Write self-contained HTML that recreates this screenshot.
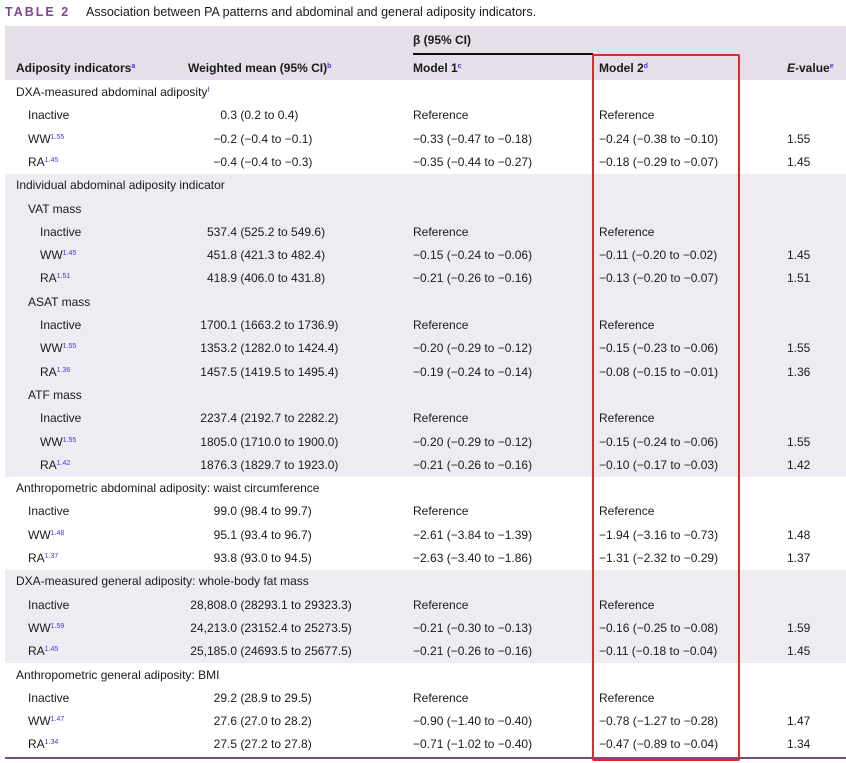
<!DOCTYPE html>
<html><head><meta charset="utf-8">
<style>
body{margin:0;width:846px;height:763px;background:#fff;position:relative;overflow:hidden;font-family:"Liberation Sans",sans-serif;font-size:12px;color:#1a1a1a}
.a{position:absolute;white-space:nowrap;line-height:14px}
.band{position:absolute;left:5px;width:841px}
sup{font-size:7px;color:#3b3bd6;vertical-align:4px;line-height:0}
.wm{position:absolute;white-space:nowrap;line-height:14px}
.wm .i{display:inline-block;width:75px;text-align:right}
</style></head><body>
<div class="a" style="left:5px;top:5px;font-weight:bold;color:#7a4a8c;letter-spacing:2px;font-size:12.5px">TABLE 2</div>
<div class="a" style="left:86px;top:5px;font-size:12.5px">Association between PA patterns and abdominal and general adiposity indicators.</div>
<div class="band" style="top:26px;height:54px;background:#e5dfea"></div>
<div class="band" style="top:174px;height:303px;background:#efebf2"></div>
<div class="band" style="top:570px;height:93px;background:#efebf2"></div>
<div class="a" style="left:413px;top:33px;font-weight:bold">β (95% CI)</div>
<div class="a" style="left:413px;top:53px;width:180px;height:1.5px;background:#111"></div>
<div class="a" style="left:16px;top:61px;font-weight:bold">Adiposity indicators<sup>a</sup></div>
<div class="a" style="left:188px;top:61px;font-weight:bold">Weighted mean (95% CI)<sup>b</sup></div>
<div class="a" style="left:413px;top:61px;font-weight:bold">Model 1<sup>c</sup></div>
<div class="a" style="left:599px;top:61px;font-weight:bold">Model 2<sup>d</sup></div>
<div class="a" style="left:787px;top:61px;font-weight:bold"><i>E</i>-value<sup>e</sup></div>
<div id="rows"></div>
<div class="band" style="top:757px;height:2px;background:#7a4a8c"></div>
<div class="a" style="left:592px;top:54px;width:144px;height:703px;border:2px solid #e02a24;border-radius:2px"></div>
<script>
const rows=[
[0,"DXA-measured abdominal adiposity","","","","","f"],
[1,"Inactive","0","3 (0.2 to 0.4)","Reference","Reference",""],
[1,"WW","−0","2 (−0.4 to −0.1)","−0.33 (−0.47 to −0.18)","−0.24 (−0.38 to −0.10)","1.55"],
[1,"RA","−0","4 (−0.4 to −0.3)","−0.35 (−0.44 to −0.27)","−0.18 (−0.29 to −0.07)","1.45"],
[0,"Individual abdominal adiposity indicator","","","","",""],
[1,"VAT mass","","","","",""],
[2,"Inactive","537","4 (525.2 to 549.6)","Reference","Reference",""],
[2,"WW","451","8 (421.3 to 482.4)","−0.15 (−0.24 to −0.06)","−0.11 (−0.20 to −0.02)","1.45"],
[2,"RA","418","9 (406.0 to 431.8)","−0.21 (−0.26 to −0.16)","−0.13 (−0.20 to −0.07)","1.51"],
[1,"ASAT mass","","","","",""],
[2,"Inactive","1700","1 (1663.2 to 1736.9)","Reference","Reference",""],
[2,"WW","1353","2 (1282.0 to 1424.4)","−0.20 (−0.29 to −0.12)","−0.15 (−0.23 to −0.06)","1.55"],
[2,"RA","1457","5 (1419.5 to 1495.4)","−0.19 (−0.24 to −0.14)","−0.08 (−0.15 to −0.01)","1.36"],
[1,"ATF mass","","","","",""],
[2,"Inactive","2237","4 (2192.7 to 2282.2)","Reference","Reference",""],
[2,"WW","1805","0 (1710.0 to 1900.0)","−0.20 (−0.29 to −0.12)","−0.15 (−0.24 to −0.06)","1.55"],
[2,"RA","1876","3 (1829.7 to 1923.0)","−0.21 (−0.26 to −0.16)","−0.10 (−0.17 to −0.03)","1.42"],
[0,"Anthropometric abdominal adiposity: waist circumference","","","","",""],
[1,"Inactive","99","0 (98.4 to 99.7)","Reference","Reference",""],
[1,"WW","95","1 (93.4 to 96.7)","−2.61 (−3.84 to −1.39)","−1.94 (−3.16 to −0.73)","1.48"],
[1,"RA","93","8 (93.0 to 94.5)","−2.63 (−3.40 to −1.86)","−1.31 (−2.32 to −0.29)","1.37"],
[0,"DXA-measured general adiposity: whole-body fat mass","","","","",""],
[1,"Inactive","28,808","0 (28293.1 to 29323.3)","Reference","Reference",""],
[1,"WW","24,213","0 (23152.4 to 25273.5)","−0.21 (−0.30 to −0.13)","−0.16 (−0.25 to −0.08)","1.59"],
[1,"RA","25,185","0 (24693.5 to 25677.5)","−0.21 (−0.26 to −0.16)","−0.11 (−0.18 to −0.04)","1.45"],
[0,"Anthropometric general adiposity: BMI","","","","",""],
[1,"Inactive","29","2 (28.9 to 29.5)","Reference","Reference",""],
[1,"WW","27","6 (27.0 to 28.2)","−0.90 (−1.40 to −0.40)","−0.78 (−1.27 to −0.28)","1.47"],
[1,"RA","27","5 (27.2 to 27.8)","−0.71 (−1.02 to −0.40)","−0.47 (−0.89 to −0.04)","1.34"]
];
const c=document.getElementById('rows');
const indent=[16,28,40];
rows.forEach((r,k)=>{
 const y=92+k*23.3-7;
 const mk=(x,html)=>{const d=document.createElement('div');d.className='a';d.style.left=x+'px';d.style.top=y+'px';d.innerHTML=html;c.appendChild(d);return d;};
 const l=mk(indent[r[0]],r[1]+(r[6]?'<sup>'+r[6]+'</sup>':''));
 
 
 if(r[2]){
  const w=document.createElement('div');w.className='wm';w.style.left='152px';w.style.top=y+'px';
  w.innerHTML='<span class="i">'+r[2]+'</span>.'+r[3];
  
  
  c.appendChild(w);
 }
 if(r[4]){const m=mk(413,r[4]);
  
  }
 if(r[5]){const m=mk(599,r[5]);
  
  }
 if(r[0]>0&&r[6]===""&&r[1]!=="Inactive"&&r[2]){}
 if(/^\d/.test(r[6])){const e=mk(787,r[6]);
  
  }
});
</script>
</body></html>
